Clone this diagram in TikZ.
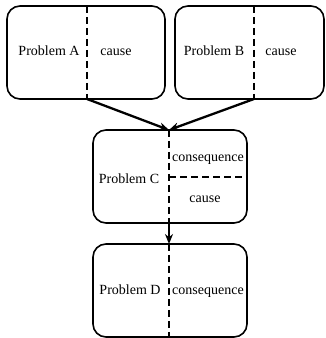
\documentclass[tikz,border=0pt]{standalone}
\usepackage{fontspec}
\setmainfont{Liberation Serif}
\usetikzlibrary{arrows.meta}
\begin{document}
\begin{tikzpicture}[x=1pt,y=1pt,
  problembox/.style={draw, line width=1.6pt, rounded corners=13pt, inner sep=0pt},
  divider/.style={line width=2.3pt, dash pattern=on 7pt off 4pt},
  link/.style={line width=2.3pt, -{Stealth[length=10pt,width=8pt]}},
  label/.style={inner sep=0pt, anchor=base, font=\fontsize{14}{16}\selectfont}]
  \useasboundingbox (0,0) rectangle (326,338);

  % the four problem boxes
  \node[problembox, minimum width=158pt, minimum height=93pt] (A) at (86,285.5) {};
  \node[problembox, minimum width=149pt, minimum height=93pt] (B) at (249.5,285.5) {};
  \node[problembox, minimum width=154pt, minimum height=93pt] (C) at (170,161.5) {};
  \node[problembox, minimum width=154pt, minimum height=93pt] (D) at (170,47.5) {};

  % ends of the dashed dividers
  \coordinate (Atop) at (87,332);  \coordinate (Abot) at (87,239);
  \coordinate (Btop) at (254,332); \coordinate (Bbot) at (254,239);
  \coordinate (Ctop) at (169,208); \coordinate (Cbot) at (169,115);
  \coordinate (Cmid) at (169,161); \coordinate (Cright) at (247,161);
  \coordinate (Dtop) at (169,94);  \coordinate (Dbot) at (169,1);

  \draw[divider] (Atop) -- (Abot);
  \draw[divider] (Btop) -- (Bbot);
  \draw[divider] (Ctop) -- (Cbot);
  \draw[divider] (Cmid) -- (Cright);
  \draw[divider] (Dtop) -- (Dbot);

  % texts
  \node[label] (ta)  at (49,282.3)  {Problem A};
  \node[label] (tac) at (116,282.3) {cause};
  \node[label] (tb)  at (214,282.3) {Problem B};
  \node[label] (tbc) at (281,282.3) {cause};
  \node[label] (tc)  at (129,154)   {Problem C};
  \node[label] (tcq) at (208,176.3) {consequence};
  \node[label] (tcc) at (205,135.3) {cause};
  \node[label] (td)  at (130,43)    {Problem D};
  \node[label] (tdq) at (208,43)    {consequence};

  % connectors
  \draw[link] (Abot) -- (Ctop);
  \draw[link] (Bbot) -- (Ctop);
  \draw[link] (Cbot) -- (Dtop);
\end{tikzpicture}
\end{document}
